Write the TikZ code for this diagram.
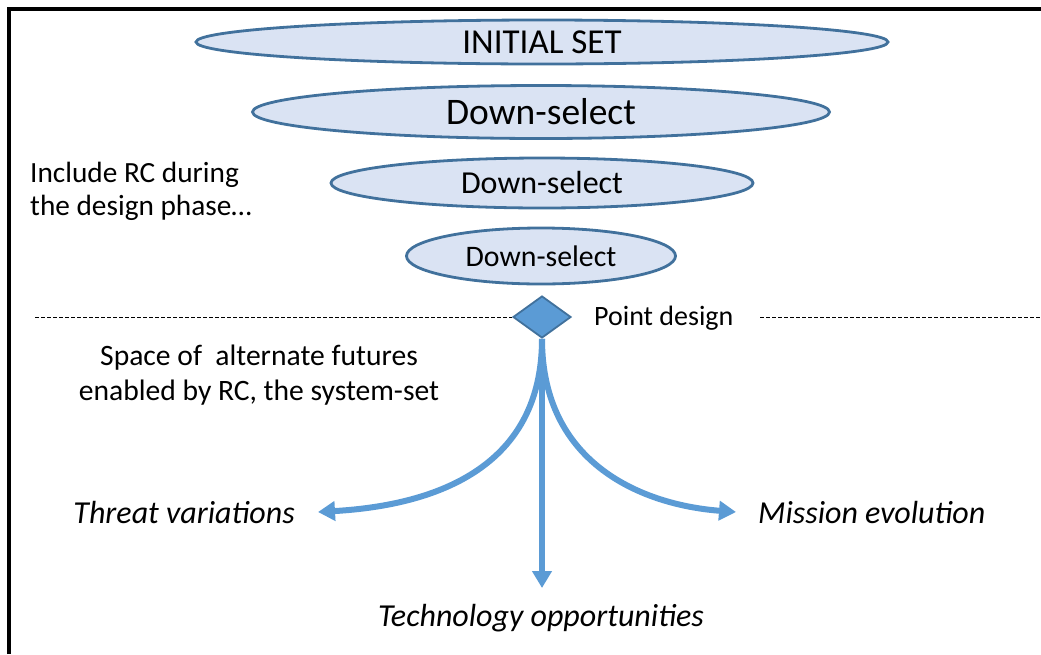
\documentclass[tikz,border=0pt]{standalone}
\usepackage{fontspec}
\setmainfont{Carlito}
\usetikzlibrary{shapes.geometric,arrows.meta}
\definecolor{efill}{HTML}{DAE3F3}
\definecolor{edraw}{HTML}{41719C}
\definecolor{arr}{HTML}{5B9BD5}
\tikzset{
  stage/.style={ellipse,draw=edraw,fill=efill,line width=2.8pt,inner sep=0pt,text=black},
  flow/.style={draw=arr,line width=6pt,-{Triangle[length=17pt,width=19pt]}},
  lbl/.style={inner sep=0pt,text=black},
  outcome/.style={inner sep=0pt,text=black,font=\fontsize{32}{36}\selectfont\itshape},
  divider/.style={draw=black,line width=1pt,dash pattern=on 3.5pt off 2.5pt}
}
\begin{document}
\begin{tikzpicture}[x=1pt,y=-1pt]
\useasboundingbox (0,0) rectangle (1041,654);
\draw[line width=4pt] (9,654) -- (9,9) -- (1041,9);
% ellipses
\node[stage,minimum width=692pt,minimum height=44pt,font=\fontsize{35}{38}\selectfont] (s0) at (542,42) {INITIAL SET};
\node[stage,minimum width=577pt,minimum height=53pt,font=\fontsize{37.5}{40}\selectfont] (s1) at (541,112) {Down-select};
\node[stage,minimum width=422pt,minimum height=50pt,font=\fontsize{32}{36}\selectfont] (s2) at (542,183) {Down-select};
\node[stage,minimum width=269pt,minimum height=56pt,font=\fontsize{29.8}{33}\selectfont] (s3) at (541,256) {Down-select};
% left text
\node[lbl,align=left,anchor=north west,font=\fontsize{29.3}{33}\selectfont] (inc) at (30,162) {Include RC during\\the design phase…};
% divider
\node[diamond,draw=edraw,fill=arr,line width=1.8pt,minimum width=58pt,minimum height=42pt,inner sep=0pt] (pd) at (542,317) {};
\coordinate (dl) at (35,317);
\coordinate (dr) at (1040,317);
\coordinate (drs) at (760,317);
\draw[divider] (dl) -- (pd.west);
\draw[divider] (drs) -- (dr);
\node[lbl,anchor=west,font=\fontsize{28}{32}\selectfont] (pdl) at (594,318) {Point design};
\node[lbl,align=center,font=\fontsize{29.6}{35}\selectfont] (space) at (259,375) {Space of \ alternate futures\\enabled by RC, the system-set};
% outcomes
\coordinate (tl) at (318,512);
\coordinate (tr) at (736,512);
\coordinate (tb) at (542,588);
\node[lbl,anchor=east,outcome] (thr) at (295,512) {Threat variations};
\node[lbl,anchor=west,outcome] (mis) at (758,512) {Mission evolution};
\node[lbl,outcome] (tech) at (541,618) {Technology opportunities};
\draw[flow] (pd.south) .. controls (542,465) and (440,505) .. (tl);
\draw[flow] (pd.south) .. controls (542,465) and (644,505) .. (tr);
\draw[flow] (pd.south) -- (tb);
\end{tikzpicture}
\end{document}
